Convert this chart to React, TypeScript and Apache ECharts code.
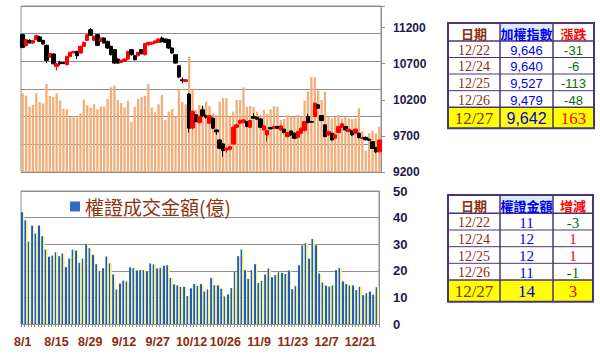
import React, { useEffect, useRef } from 'react';
import * as echarts from 'echarts';

const dates = [
  '8/1','8/2','8/3','8/6','8/7','8/8','8/9','8/10','8/13','8/14','8/15','8/16','8/17','8/20','8/21','8/22','8/23','8/24','8/27','8/28','8/29','8/30','8/31',
  '9/3','9/4','9/5','9/6','9/7','9/10','9/11','9/12','9/13','9/14','9/17','9/18','9/19','9/20','9/21','9/25','9/26','9/27','9/28',
  '10/1','10/2','10/3','10/4','10/5','10/8','10/9','10/11','10/12','10/15','10/16','10/17','10/18','10/19','10/22','10/23','10/24','10/25','10/26','10/29','10/30','10/31',
  '11/1','11/2','11/5','11/6','11/7','11/8','11/9','11/12','11/13','11/14','11/15','11/16','11/19','11/20','11/21','11/22','11/23','11/26','11/27','11/28','11/29','11/30',
  '12/3','12/4','12/5','12/6','12/7','12/10','12/11','12/12','12/13','12/14','12/17','12/18','12/19','12/20','12/21','12/22','12/24','12/25','12/26','12/27'
];

const openP = [
  11103,10950,11024,10987,11033,11071,11024,10955,10793,10834,10663,10719,10714,10686,10802,10850,10871,10848,10941,11024,
  11172,11024,11103,11010,11057,11010,10941,10895,10765,10719,10733,10765,10895,10811,10811,10895,10825,10964,10973,10987,
  10996,11057,11043,11033,10918,10825,10672,10478,10455,10279,9810,9992,9885,10061,9978,9876,9945,9783,9644,9589,
  9506,9515,9589,9820,9876,9885,9899,9820,9969,9959,9936,9783,9714,9816,9807,9830,9783,9793,9691,9769,
  9737,9682,9737,9774,9969,9899,9969,10131,9982,9853,9714,9737,9668,9746,9820,9830,9760,9769,9737,9737,
  9665,9680,9655,9620,9540,9480
];
const closeP = [
  10927,11033,10987,11020,11089,11010,10973,10746,10840,10700,10700,10700,10705,10802,10858,10871,10811,10941,10996,11103,
  11094,11080,10955,11057,10987,10918,10825,10709,10709,10746,10765,10871,10825,10756,10858,10839,10978,10996,10996,11015,
  11043,11006,10996,10918,10848,10709,10515,10464,10478,9807,10040,9899,9969,9978,9959,9978,9807,9756,9529,9496,
  9529,9552,9820,9853,9913,9922,9830,9913,9945,9932,9820,9839,9774,9797,9830,9807,9839,9746,9746,9714,
  9668,9760,9807,9899,9885,9890,10154,10084,9913,9691,9760,9644,9714,9830,9867,9783,9793,9714,9793,9677,
  9677,9646,9640,9527,9479,9642
];
const lowP = [
  10915,10940,10980,10980,11025,11000,10965,10709,10785,10690,10608,10677,10695,10680,10795,10845,10765,10840,10935,11015,
  11085,11015,10945,11000,10980,10905,10815,10700,10700,10710,10725,10755,10815,10745,10800,10830,10815,10955,10965,10980,
  10990,10995,10985,10905,10840,10700,10505,10430,10445,9746,9790,9890,9875,9965,9940,9865,9795,9714,9520,9413,
  9469,9505,9580,9810,9865,9875,9820,9810,9935,9925,9810,9775,9621,9790,9800,9795,9775,9735,9680,9700,
  9655,9670,9725,9765,9875,9880,9960,10075,9905,9680,9700,9635,9660,9740,9810,9775,9750,9705,9730,9665,
  9655,9640,9630,9520,9460,9470
];
const highP = [
  11115,11045,11040,11030,11100,11085,11030,10965,10850,10845,10710,10742,10725,10810,10865,10880,10880,10950,11005,11110,
  11195,11090,11110,11065,11065,11020,10950,10900,10775,10755,10775,10880,10905,10820,10865,10905,10985,11005,11005,11025,
  11050,11075,11050,11040,10925,10830,10680,10510,10490,10293,10050,10000,9980,10117,9995,9985,9955,9790,9655,9600,
  9540,9560,9830,9865,9925,9930,9905,9920,10015,9965,9945,9850,9780,9825,9840,9840,9845,9800,9755,9775,
  9745,9770,9815,9905,10006,9910,10165,10140,9990,9860,9770,9745,9720,9840,9875,9840,9800,9775,9800,9745,
  9690,9690,9665,9625,9545,9650
];

const volume = [
  1423,1381,1182,1212,1423,1266,1242,1592,1375,1357,1423,1290,1146,1134,989,1013,983,1061,1309,1206,
  1164,1224,1134,1182,1182,1321,1532,1562,1302,1248,1164,1290,905,1182,1321,1357,1375,1592,1164,1079,
  1224,1393,941,1091,1140,1007,1495,1266,1224,2086,1495,1122,1212,1182,1272,1194,1061,1031,1272,1333,
  1333,1001,1091,1302,1302,1532,1182,1194,1182,1091,1031,1122,1049,1134,1194,1182,941,959,1031,1001,
  1001,1031,1001,1290,1453,1713,1713,1471,1302,1453,1001,971,1001,1031,959,1001,971,959,971,1152,
  730,386,699,748,699,820
];

const warrant = [
  42,39,31,37,34,37,33,28,25.3,25.7,27,25.5,26.5,21.4,24.6,28,27.6,23,24.6,30,
  28.5,26,22.5,19.8,21,25.4,22.8,18.6,13,15.2,16.3,16,21.3,21,20.1,20.25,20.25,19.75,22.75,22.4,
  20.9,21.1,21.9,22.1,17.3,14.9,14.5,13.9,14,10.5,13.4,15.1,14.3,15,12.25,13,17.25,14.6,14.5,13.25,
  10.4,11.1,13.5,19.6,25.5,28,20.25,17,20.25,22.5,15.4,16.2,18.6,20.9,17.6,18.4,19.5,19.25,18.75,20.1,
  13.1,14.25,22.1,29.6,30.4,24.6,32,29.6,19,15.6,14.4,14.1,14.5,20.25,21.1,16,15,14.5,14.5,12.75,
  14,10.8,11.6,12.2,11,13.8
];

const idxTableDates = ['12/22', '12/24', '12/25', '12/26', '12/27'];
const idxTableValues = [9646, 9640, 9527, 9479, 9642];
const idxTableChanges = [-31, -6, -113, -48, 163];
const wTableDates = ['12/22', '12/24', '12/25', '12/26', '12/27'];
const wTableValues = [11, 12, 12, 11, 14];
const wTableChanges = [-3, 1, 1, -1, 3];

const BROWN = '#8B2E0C';
const BLUE = '#0000F0';
const RED = '#FF0000';
const GREEN = '#0A6A0A';
const BORDER = '#4A3478';
const NAVY = '#1B1B4B';
const GRIDC = '#8E8E8E';

type Cell = { text: string; color: string; font: string };

function tableGraphics(xs: number[], ys: number[], headers: { text: string; color: string; bg?: string }[], rows: Cell[][]) {
  const els: any[] = [];
  const n = rows.length + 1;
  const x0 = xs[0], x1 = xs[xs.length - 1], y0 = ys[0], y1 = ys[n];
  els.push({ type: 'rect', silent: true, shape: { x: x0, y: y0, width: x1 - x0, height: y1 - y0 }, style: { fill: '#FFFFFF' } });
  headers.forEach((h, c) => {
    if (h.bg) els.push({ type: 'rect', silent: true, shape: { x: xs[c], y: ys[0], width: xs[c + 1] - xs[c], height: ys[1] - ys[0] }, style: { fill: h.bg } });
  });
  els.push({ type: 'rect', silent: true, shape: { x: x0, y: ys[n - 1], width: x1 - x0, height: ys[n] - ys[n - 1] }, style: { fill: '#FFFF00' } });
  for (let r = 1; r < n; r++) {
    els.push({ type: 'line', silent: true, shape: { x1: x0, y1: ys[r], x2: x1, y2: ys[r] }, style: { stroke: BORDER, lineWidth: r === 1 || r === n - 1 ? 1.5 : 1 } });
  }
  for (let c = 1; c < xs.length - 1; c++) {
    els.push({ type: 'line', silent: true, shape: { x1: xs[c], y1: y0, x2: xs[c], y2: y1 }, style: { stroke: BORDER, lineWidth: 1.5 } });
  }
  els.push({ type: 'rect', silent: true, shape: { x: x0, y: y0, width: x1 - x0, height: y1 - y0 }, style: { fill: 'none', stroke: BORDER, lineWidth: 2 } });
  headers.forEach((h, c) => {
    els.push({ type: 'text', silent: true, x: (xs[c] + xs[c + 1]) / 2, y: (ys[0] + ys[1]) / 2 + 1,
      style: { text: h.text, fill: h.color, font: 'bold 13px "Noto Sans CJK TC"', align: 'center', verticalAlign: 'middle' } });
  });
  rows.forEach((row, r) => {
    row.forEach((cell, c) => {
      els.push({ type: 'text', silent: true, x: (xs[c] + xs[c + 1]) / 2, y: (ys[r + 1] + ys[r + 2]) / 2 + 1,
        style: { text: cell.text, fill: cell.color, font: cell.font, align: 'center', verticalAlign: 'middle' } });
    });
  });
  return els;
}

export default function App() {
  const ref = useRef<HTMLDivElement>(null);
  useEffect(() => {
    if (!ref.current) return;
    const chart = echarts.init(ref.current, null, { renderer: 'svg' });

    const candleData = openP.map((o, i) => [o, closeP[i], lowP[i], highP[i]]);

    const t1Rows: Cell[][] = idxTableDates.map((d, i) => {
      const last = i === idxTableDates.length - 1;
      const ch = idxTableChanges[i];
      return [
        { text: d, color: BROWN, font: last ? '17px "Liberation Serif"' : '14px "Liberation Serif"' },
        { text: idxTableValues[i].toLocaleString('en-US'), color: BLUE, font: last ? '16px "Liberation Sans"' : '13px "Liberation Sans"' },
        { text: String(ch), color: ch < 0 ? GREEN : RED, font: last ? '17px "Liberation Serif"' : '13px "Liberation Sans"' },
      ];
    });
    const t2Rows: Cell[][] = wTableDates.map((d, i) => {
      const last = i === wTableDates.length - 1;
      const ch = wTableChanges[i];
      return [
        { text: d, color: BROWN, font: last ? '17px "Liberation Serif"' : '14px "Liberation Serif"' },
        { text: String(wTableValues[i]), color: BLUE, font: last ? '17px "Liberation Serif"' : '15px "Liberation Serif"' },
        { text: String(ch), color: ch < 0 ? GREEN : RED, font: last ? '17px "Liberation Serif"' : '15px "Liberation Serif"' },
      ];
    });

    const graphics = [
      ...tableGraphics([448, 500, 553, 594], [23, 41, 57.5, 74, 90.7, 107.3, 128.3],
        [{ text: '日期', color: BROWN }, { text: '加權指數', color: BLUE, bg: '#DCEBFA' }, { text: '漲跌', color: RED }], t1Rows),
      ...tableGraphics([448, 500, 553, 593], [195, 213.3, 230, 246.7, 263.3, 280, 301.7],
        [{ text: '日期', color: BROWN }, { text: '權證金額', color: BLUE, bg: '#DCEBFA' }, { text: '增減', color: RED }], t2Rows),
    ];

    const blueYellow = new echarts.graphic.LinearGradient(0, 0, 1, 0, [
      { offset: 0, color: '#1E5BC6' },
      { offset: 0.5, color: '#1E5BC6' },
      { offset: 0.5, color: '#F3EE6E' },
      { offset: 1, color: '#F8F6B0' },
    ]);

    chart.setOption({
      animation: false,
      backgroundColor: '#FFFFFF',
      grid: [
        { left: 21, top: 6, width: 360, height: 166, show: true, borderColor: GRIDC, borderWidth: 1 },
        { left: 21, top: 191, width: 358, height: 133, show: true, borderColor: GRIDC, borderWidth: 1 },
      ],
      legend: {
        data: [{ name: '權證成交金額(億)', itemStyle: { color: '#3468C6' } }],
        left: 65, top: 192, icon: 'rect', itemWidth: 10, itemHeight: 10, itemGap: 5,
        selectedMode: false,
        textStyle: { fontSize: 19, color: '#8B3510', fontFamily: '"Noto Sans CJK TC"' },
      },
      xAxis: [
        { type: 'category', gridIndex: 0, data: dates, boundaryGap: true,
          axisLine: { show: false }, axisTick: { show: false }, axisLabel: { show: false } },
        { type: 'category', gridIndex: 1, data: dates, boundaryGap: true,
          axisLine: { show: true, lineStyle: { color: GRIDC } },
          axisTick: { show: true, interval: 0, length: 3, lineStyle: { color: GRIDC } },
          axisLabel: { interval: 9, margin: 11, color: '#8E2A0B', fontWeight: 'bold', fontSize: 12.5, fontFamily: '"Liberation Sans"' } },
      ],
      yAxis: [
        { type: 'value', gridIndex: 0, position: 'left', min: 0, max: 3000, interval: 500,
          axisLabel: { show: false }, axisLine: { show: false }, axisTick: { show: false },
          splitLine: { show: true, lineStyle: { color: GRIDC, width: 1 } } },
        { type: 'value', gridIndex: 0, position: 'right', min: 9200, max: 11500, interval: 500,
          splitLine: { show: false },
          axisLine: { show: true, lineStyle: { color: GRIDC } },
          axisTick: { show: true, length: 4, lineStyle: { color: GRIDC } },
          axisLabel: { margin: 12, color: NAVY, fontWeight: 'bold', fontSize: 12, fontFamily: '"Liberation Sans"',
            formatter: (v: number) => ((v - 9200) % 500 === 0 ? String(v) : '') } },
        { type: 'value', gridIndex: 1, position: 'right', min: 0, max: 50, interval: 10,
          splitLine: { show: true, lineStyle: { color: GRIDC, width: 1 } },
          axisLine: { show: true, lineStyle: { color: GRIDC } },
          axisTick: { show: false },
          axisLabel: { margin: 14, color: NAVY, fontWeight: 'bold', fontSize: 13, fontFamily: '"Liberation Sans"' } },
      ],
      series: [
        { name: '成交量', type: 'bar', xAxisIndex: 0, yAxisIndex: 0, data: volume, barWidth: '68%',
          itemStyle: { color: '#F2AD78' }, z: 2, silent: true },
        { name: '加權指數', type: 'candlestick', xAxisIndex: 0, yAxisIndex: 1, data: candleData, barWidth: 4,
          itemStyle: { color: RED, color0: '#000000', borderColor: RED, borderColor0: '#000000', borderWidth: 1 }, z: 5, silent: true },
        { name: '權證成交金額(億)', type: 'bar', xAxisIndex: 1, yAxisIndex: 2, data: warrant,
          barWidth: '100%', itemStyle: { color: blueYellow }, silent: true },
      ],
      graphic: graphics,
    });
    return () => chart.dispose();
  }, []);
  return <div ref={ref} style={{ position: 'fixed', left: 0, top: 0, width: 600, height: 356, background: '#fff' }} />;
}
